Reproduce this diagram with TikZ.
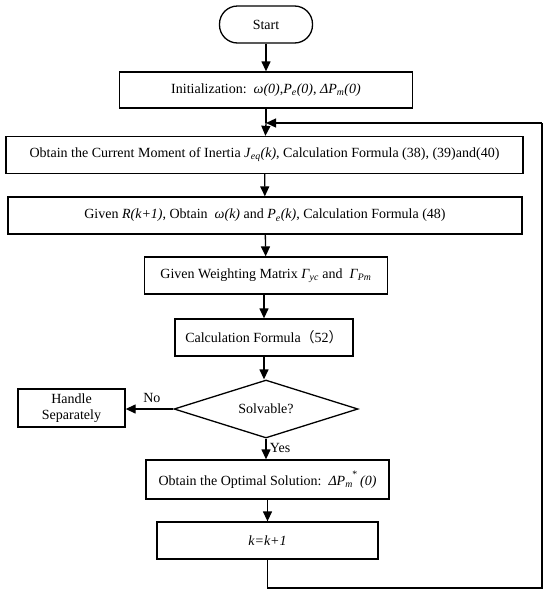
\documentclass[tikz,border=0pt]{standalone}
\usepackage{fontspec}
\setmainfont{Liberation Serif}
\newfontfamily\cjk{Noto Sans CJK SC}
\usetikzlibrary{arrows.meta,shapes.geometric}
\newcommand{\mysub}[1]{\textsubscript{\textit{#1}}}
\begin{document}
\begin{tikzpicture}[x=1pt,y=-1pt,
  font=\fontsize{14}{16}\selectfont,
  box/.style={draw,line width=1.3pt,rectangle,inner sep=0pt,minimum height=37pt},
  arr/.style={line width=1.3pt,-{Triangle[length=10pt,width=9pt]}},
  ln/.style={line width=1.3pt}]
\useasboundingbox (0,0) rectangle (550,600);
\node[box,rounded corners=18pt,minimum width=93pt] (start) at (266,24.5) {Start};
\node[box,minimum width=293pt,minimum height=36pt] (init) at (266,90) {Initialization:\ \ \textit{ω(0)},\textit{P}\mysub{e}\textit{(0)}, \textit{ΔP}\mysub{m}\textit{(0)}};
\node[box,minimum width=517pt] (b3) at (264.5,155) {Obtain the Current Moment of Inertia \textit{J}\mysub{eq}\textit{(k)}, Calculation Formula (38), (39)and(40)};
\node[box,minimum width=514pt] (b4) at (265,215.5) {Given \textit{R(k+1)}, Obtain\ \ \textit{ω(k)} and \textit{P}\mysub{e}\textit{(k)}, Calculation Formula (48)};
\node[box,minimum width=243pt] (b5) at (266,275.5) {Given Weighting Matrix \textit{Γ}\mysub{yc} and\ \ \textit{Γ}\mysub{Pm}};
\node[box,minimum width=178pt] (b6) at (264,337.5) {Calculation Formula{\cjk （}52{\cjk ）}};
\node[draw,line width=1.3pt,diamond,aspect=3.17,inner sep=0pt,minimum width=184pt,minimum height=58pt] (dia) at (266,409) {Solvable?};
\node[box,minimum width=107pt,minimum height=38pt,align=center] (hs) at (71.5,408) {Handle\\Separately};
\node[box,minimum width=243pt,minimum height=39pt] (b7) at (267.5,479.5) {Obtain the Optimal Solution:\ \ \textit{ΔP}\mysub{m}\kern-0.5pt\raisebox{3pt}{\textsuperscript{*}}\,\textit{(0)}};
\node[box,minimum width=221pt] (b8) at (267.5,540.5) {\textit{k=k+1}};
\coordinate (lp) at (266,123);
\coordinate (br) at (542,588);
\coordinate (tr) at (542,123);
\draw[arr] (start) -- (init);
\draw[ln] (init) -- (lp);
\draw[arr] (lp) -- (b3);
\draw[arr] (b3) -- (b4);
\draw[arr] (b4) -- (b5);
\draw[arr] (b5) -- (b6 |- b5.south) -- (b6);
\draw[arr] (b6) -- (dia.north -| b6);
\draw[arr] (dia.west) -- node[above,pos=0.45,yshift=2pt] {No} (hs.east |- dia.west);
\draw[arr] (dia.south) -- node[right,pos=0.45] {Yes} (dia.south |- b7.north);
\draw[arr] (b7.south -| b8) -- (b8);
\draw[ln] (b8) -- (b8 |- br) -- (br) -- (tr);
\draw[arr] (tr) -- (lp);
\end{tikzpicture}
\end{document}
